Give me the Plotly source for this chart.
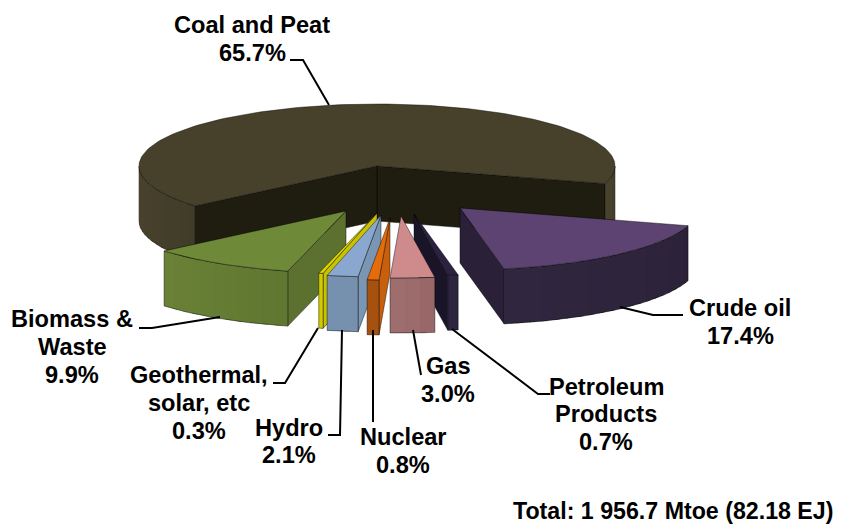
import math
import plotly.graph_objects as go

categories = ["Coal and Peat", "Crude oil", "Petroleum Products", "Gas", "Nuclear", "Hydro", "Geothermal, solar, etc", "Biomass & Waste"]
shares = [65.7, 17.4, 0.7, 3.0, 0.8, 2.1, 0.3, 9.9]
label_lines = [["Coal and Peat", "65.7%"], ["Crude oil", "17.4%"], ["Petroleum", "Products", "0.7%"], ["Gas", "3.0%"],
               ["Nuclear", "0.8%"], ["Hydro", "2.1%"], ["Geothermal,", "solar, etc", "0.3%"], ["Biomass &", "Waste", "9.9%"]]
total_note = "Total: 1 956.7 Mtoe (82.18 EJ)"

# Projection of the tilted, exploded pie (pixels)
AX, BY, DEPTH = 238, 62, 55
START = -16.6
APEX = [(377, 166), (460, 208), (414, 214), (401, 216), (390, 218), (381, 215), (377, 213), (346, 211)]
TOP = ["#47412b", "#5c4372", "#2b2141", "#cf8b8c", "#e46c0a", "#8aa8cf", "#dcd400", "#6e8938"]
OUT_A = ["#4a442e", "#30263f", "#2d2440", "#a06f70", "#ab530f", "#7590b0", "#d2ca00", "#6a8236"]
OUT_B = ["#413c28", "#2c2238", "#2d2440", "#976768", "#a34f0e", "#7890ae", "#d2ca00", "#5f7630"]
FACE = ["#1f1c10", "#2a2138", "#1a1428", "#8a5f60", "#c85f0c", "#7a96b5", "#c9c200", "#5c7030"]
DRAW_ORDER = [0, 1, 2, 7, 6, 5, 4, 3]

LABEL_POS = [(252, [25, 53]), (740, [308, 336]), (606, [387, 414, 442]), (448, [366, 394]),
             (403, [437, 465]), (289, [428, 455]), (199, [375, 403, 431]), (72, [319, 347, 375])]
LEADERS = [[(290, 60), (303, 60), (329, 105)], [(620, 307), (653, 315), (683, 315)], [(452, 329), (538, 394), (550, 394)],
           [(413, 330), (421, 375)], [(373, 330), (373, 422)], [(328, 435), (340, 435), (342, 330)],
           [(273, 383), (285, 383), (318, 328)], [(139, 328), (152, 328), (220, 317)]]

fig = go.Figure()


def poly(pts, fill, line="rgba(0,0,0,0.55)", width=0.8):
    fig.add_trace(go.Scatter(x=[p[0] for p in pts] + [pts[0][0]], y=[p[1] for p in pts] + [pts[0][1]],
                             mode="lines", fill="toself", fillcolor=fill,
                             line=dict(color=line, width=width), hoverinfo="skip", showlegend=False))


def mix(c1, c2, t):
    a = [int(c1[i:i + 2], 16) for i in (1, 3, 5)]
    b = [int(c2[i:i + 2], 16) for i in (1, 3, 5)]
    return "#%02x%02x%02x" % tuple(round(a[k] + (b[k] - a[k]) * t) for k in range(3))


# Angles: coal runs counter-clockwise from START, the other slices follow it
total = sum(shares)
spans = {0: (START, START + shares[0] / total * 360)}
cursor = START
for i in range(1, len(shares)):
    sweep = shares[i] / total * 360
    spans[i] = (cursor - sweep, cursor)
    cursor -= sweep


def rim(c, deg):
    r = math.radians(deg)
    return (c[0] + AX * math.cos(r), c[1] + BY * math.sin(-r))


def arc(c, a, b, n):
    return [rim(c, a + (b - a) * k / n) for k in range(n + 1)]


for i in DRAW_ORDER:
    a1, a2 = spans[i]
    c = APEX[i]
    low = (c[0], c[1] + DEPTH)
    # radial faces turned to the viewer
    if math.sin(math.radians(a1 - 90)) < 0:
        p = rim(c, a1)
        poly([c, p, (p[0], p[1] + DEPTH), low], FACE[i])
    if math.sin(math.radians(a2 + 90)) < 0:
        p = rim(c, a2)
        poly([c, p, (p[0], p[1] + DEPTH), low], FACE[i])
    # curved outer wall: only the part facing the viewer, in overlapping strips
    bands = []
    for base in (-180, 180):
        lo, hi = max(a1, base), min(a2, base + 180)
        if hi > lo:
            bands.append((lo, hi))
    for lo, hi in bands:
        n = max(1, int((hi - lo) / 3))
        for s in range(n):
            x0 = lo + (hi - lo) * s / n
            x1 = min(hi, lo + (hi - lo) * (s + 1) / n + 1.5)
            t = (s + 0.5) / n
            pts = arc(c, x0, x1, 4)
            poly(pts + [(q[0], q[1] + DEPTH) for q in reversed(pts)], mix(OUT_A[i], OUT_B[i], t),
                 line="rgba(0,0,0,0)", width=0)
        pts = arc(c, lo, hi, 40)
        fig.add_trace(go.Scatter(x=[q[0] for q in pts] + [pts[-1][0], None] + [q[0] for q in pts] + [None, pts[0][0], pts[0][0]],
                                 y=[q[1] for q in pts] + [pts[-1][1] + DEPTH, None] + [q[1] + DEPTH for q in pts] + [None, pts[0][1], pts[0][1] + DEPTH],
                                 mode="lines", line=dict(color="rgba(0,0,0,0.55)", width=0.8),
                                 hoverinfo="skip", showlegend=False))
    # top
    poly([c] + arc(c, a1, a2, max(3, int((a2 - a1) / 1.5))), TOP[i])

for path in LEADERS:
    fig.add_trace(go.Scatter(x=[p[0] for p in path], y=[p[1] for p in path], mode="lines",
                             line=dict(color="black", width=2), hoverinfo="skip", showlegend=False))

FONT = dict(family="Liberation Sans, Arial, sans-serif", size=23.6, color="black")
annotations = []
for lines, (cx, ys) in zip(label_lines, LABEL_POS):
    for text, y in zip(lines, ys):
        annotations.append(dict(x=cx, y=y, text="<b>%s</b>" % text, showarrow=False, xref="x", yref="y",
                                xanchor="center", yanchor="middle", font=FONT))
annotations.append(dict(x=673, y=510.5, text="<b>%s</b>" % total_note, showarrow=False, xref="x", yref="y",
                        xanchor="center", yanchor="middle", font=dict(FONT, size=23.2)))

fig.update_layout(width=846, height=524, margin=dict(l=0, r=0, t=0, b=0), autosize=False,
                  paper_bgcolor="white", plot_bgcolor="white", annotations=annotations, showlegend=False,
                  xaxis=dict(range=[0, 846], visible=False, fixedrange=True),
                  yaxis=dict(range=[524, 0], visible=False, fixedrange=True))
fig.write_html("out.html", config=dict(displayModeBar=False),
               post_script="document.body.style.margin='0';document.body.style.overflow='hidden';")
